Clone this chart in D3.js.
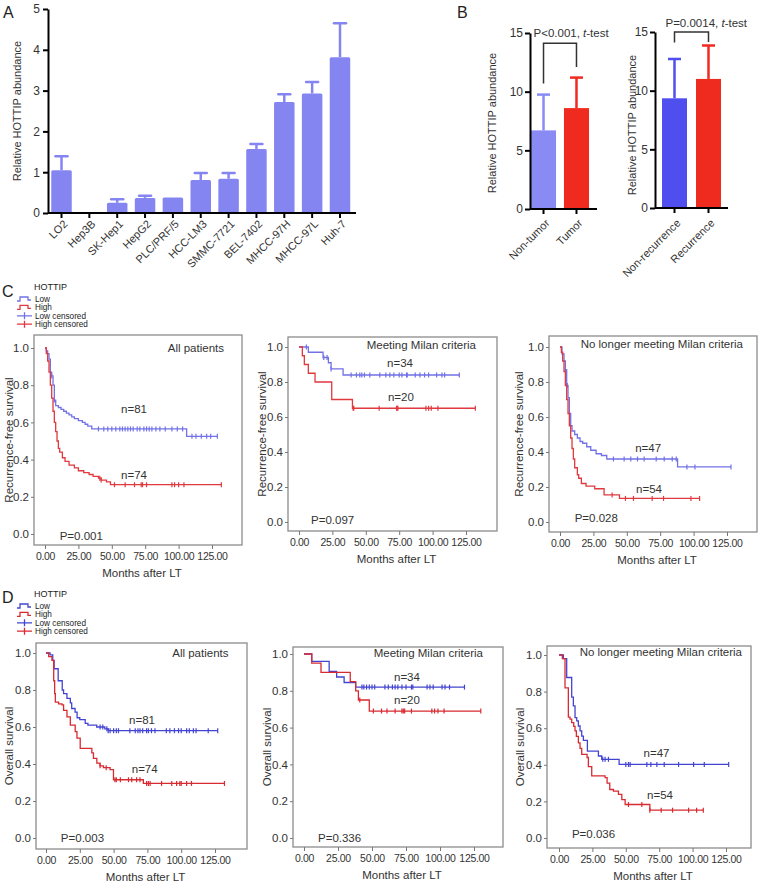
<!DOCTYPE html>
<html>
<head>
<meta charset="utf-8">
<script src="https://cdn.jsdelivr.net/npm/d3@7"></script>
<style>
  body { margin: 0; background: #fff; }
  svg { display: block; }
</style>
</head>
<body>
<div id="container"></div>
<script>
// ---------- data ----------
// Panel A: cell lines
const cellLines = ["LO2", "Hep3B", "SK-Hep1", "HepG2", "PLC/PRF/5", "HCC-LM3", "SMMC-7721", "BEL-7402", "MHCC-97H", "MHCC-97L", "Huh-7"];
const cellMeans = [1.05, 0.02, 0.25, 0.37, 0.38, 0.81, 0.84, 1.57, 2.72, 2.93, 3.82];
const cellErrTop = [1.39, 0.03, 0.34, 0.42, 0.38, 0.98, 0.98, 1.69, 2.91, 3.21, 4.65];

// Panel B
const tissueGroups = ["Non-tumor", "Tumor"];
const tissueMeans = [6.7, 8.6];
const tissueErrTop = [9.75, 11.2];
const recurGroups = ["Non-recurrence", "Recurrence"];
const recurMeans = [9.35, 11.0];
const recurErrTop = [12.7, 13.85];

// Panel C: recurrence-free survival, [months, survival]
const rfsAllLow = [[0,1],[1,0.985],[2,0.97],[3,0.94],[4,0.87],[5,0.85],[6,0.80],[7,0.72],[8,0.69],[10,0.68],[12,0.67],[14,0.66],[16,0.65],[18,0.64],[20,0.63],[22,0.62],[25,0.61],[28,0.60],[30,0.59],[32,0.58],[35,0.565],[106,0.525],[129,0.525]];
const rfsAllLowCens = [5,7,40,44,47,50,53,56,58,60,62,64,66,69,71,74,76,78,80,83,86,90,95,99,103,110,113,117,121,124,129];
const rfsAllHigh = [[0,1],[1,0.97],[2,0.93],[3,0.87],[4,0.80],[5,0.73],[6,0.66],[7,0.60],[8,0.55],[9,0.50],[10,0.46],[11,0.44],[13,0.41],[15,0.39],[18,0.37],[22,0.355],[25,0.34],[29,0.33],[33,0.32],[36,0.31],[40,0.30],[42,0.29],[46,0.28],[49,0.265],[132,0.265]];
const rfsAllHighCens = [41,42,52,60,67,72,73,76,95,97,100,104,132];

const rfsMilanLow = [[0,1],[7,0.97],[18,0.94],[22,0.91],[24,0.875],[33,0.84],[120,0.84]];
const rfsMilanLowCens = [5.5,18.5,21,24,39,43,45.5,47,49,53,60.5,65,68,71,75,77,80.5,81,87,90.5,94,97,103,107,109,120];
const rfsMilanHigh = [[0,1],[2.5,0.95],[4,0.90],[7,0.85],[12,0.80],[24.5,0.70],[40,0.65],[132,0.65]];
const rfsMilanHighCens = [40.5,41,60,73,73.5,74,95,97,99,104,132];

const rfsBeyondLow = [[0,1],[1.5,0.96],[3,0.92],[4,0.87],[5,0.78],[6,0.71],[7,0.62],[8,0.55],[9,0.52],[11,0.50],[13,0.48],[15,0.46],[17,0.45],[20,0.43],[23,0.41],[27,0.39],[31,0.38],[35,0.36],[88,0.315],[128,0.315]];
const rfsBeyondLowCens = [4,5.5,40,48,53,58,63,72,78,84,87,95,101,128];
const rfsBeyondHigh = [[0,1],[1,0.97],[2,0.92],[3,0.86],[4,0.78],[5,0.70],[6,0.62],[7,0.55],[8,0.48],[9,0.42],[10,0.36],[11,0.31],[13,0.27],[14,0.25],[16,0.22],[19.5,0.205],[26,0.19],[33,0.155],[44.5,0.135],[104.5,0.135]];
const rfsBeyondHighCens = [39,49,55,69,77.5,98,104.5];

// Panel D: overall survival
const osAllLow = [[0,1],[3,0.99],[5,0.96],[6,0.915],[9,0.85],[12,0.80],[13,0.78],[15.5,0.755],[18,0.73],[19,0.70],[21.5,0.68],[23,0.65],[25,0.64],[29,0.62],[31,0.61],[37.5,0.60],[43.5,0.59],[46,0.58],[127,0.58]];
const osAllLowCens = [40,42,45,46,47.4,50,52,53.6,62,66,68,69.5,71.5,74.4,75.7,78,80.6,89,91.6,95,98,100,104,106,109,111,120,127];
const osAllHigh = [[0,1],[2,0.98],[4.4,0.96],[5.7,0.85],[6.4,0.78],[6.9,0.735],[9.3,0.725],[11.8,0.72],[13,0.69],[15.5,0.655],[18,0.61],[21.6,0.575],[22.9,0.54],[25.3,0.485],[33.9,0.46],[35.1,0.43],[37.6,0.405],[40,0.39],[42.5,0.38],[47.4,0.37],[49.9,0.315],[72,0.295],[132,0.295]];
const osAllHighCens = [40,44.5,51,52,55,61,63.4,67,69.5,74.4,75.7,77,85.5,93,96.6,99,100,104,107.6,132];

const osMilanLow = [[0,1],[5.7,0.96],[18.5,0.905],[24,0.875],[29.5,0.845],[38,0.82],[118,0.82]];
const osMilanLowCens = [42.6,44,46,48,50,52,59.5,62,65,67,69,72,75,79,80,90.5,92.6,95,101.5,103.7,107,118];
const osMilanHigh = [[0,1],[5.7,0.95],[12.5,0.90],[34,0.85],[38,0.80],[40,0.75],[48,0.69],[130,0.69]];
const osMilanHighCens = [41,51,57,61,67,72,73,74,79,94,96,98.5,103,130];

const osBeyondLow = [[0,1],[3.25,0.98],[5.75,0.877],[9.5,0.77],[10.75,0.722],[12,0.658],[13.25,0.64],[14.5,0.612],[15.75,0.585],[17,0.557],[18.25,0.534],[21.25,0.475],[29.5,0.448],[32,0.43],[45,0.402],[127,0.402]];
const osBeyondLowCens = [32.75,34.5,37,50,52,53.25,65.75,68.75,73.25,78.75,89.5,100.75,108.75,127];
const osBeyondHigh = [[0,1],[2.5,0.98],[4.5,0.82],[7,0.66],[8.25,0.65],[9.5,0.63],[11,0.61],[12,0.585],[13,0.555],[14.5,0.52],[15.75,0.49],[17,0.457],[21,0.44],[22,0.39],[24.5,0.34],[34.5,0.33],[36,0.30],[38,0.265],[40.75,0.256],[44.5,0.238],[47,0.21],[49.5,0.183],[68,0.152],[108,0.152]];
const osBeyondHighCens = [52,62,68,76.5,85,97,103,108];

const legendItems = ["Low", "High", "Low censored", "High censored"];
const monthTicks = [0, 25, 50, 75, 100, 125];
const survTicks = [0, 0.2, 0.4, 0.6, 0.8, 1.0];

// ---------- setup ----------
const width = 760;
const height = 882;
const font = '"Liberation Sans", Arial, Helvetica, sans-serif';
const textColor = "#333";

const svg = d3.select("#container").append("svg")
  .attr("width", width)
  .attr("height", height)
  .attr("font-family", font)
  .style("background", "#fff");

// panel letters
[["A", 3, 18], ["B", 457, 18], ["C", 2, 297], ["D", 2, 603]].forEach(([t, x, y]) => {
  svg.append("text").attr("x", x).attr("y", y).attr("font-size", 16).attr("fill", "#222").text(t);
});

// ---------- Panel A ----------
function drawPanelA() {
  const barColor = "#8585f2";
  const x = d3.scaleBand().domain(cellLines).range([48, 353.5]).paddingInner(0.264).paddingOuter(0.117);
  const y = d3.scaleLinear().domain([0, 5]).range([213, 9]);
  const g = svg.append("g");

  g.selectAll("rect.bar").data(cellLines).join("rect")
    .attr("x", d => x(d))
    .attr("y", (d, i) => y(cellMeans[i]))
    .attr("width", x.bandwidth())
    .attr("height", (d, i) => y(0) - y(cellMeans[i]))
    .attr("rx", 1.5)
    .attr("fill", barColor);

  // error bars (upper only)
  cellLines.forEach((d, i) => {
    if (cellErrTop[i] - cellMeans[i] < 0.03) return;
    const cx = x(d) + x.bandwidth() / 2;
    g.append("line").attr("x1", cx).attr("x2", cx).attr("y1", y(cellMeans[i])).attr("y2", y(cellErrTop[i]))
      .attr("stroke", barColor).attr("stroke-width", 2.5);
    g.append("line").attr("x1", cx - 6).attr("x2", cx + 6).attr("y1", y(cellErrTop[i])).attr("y2", y(cellErrTop[i]))
      .attr("stroke", barColor).attr("stroke-width", 2.5).attr("stroke-linecap", "round");
  });

  const yAxis = g.append("g").attr("transform", "translate(48,0)")
    .call(d3.axisLeft(y).ticks(5).tickSize(5).tickPadding(3).tickSizeOuter(0));
  const xAxis = g.append("g").attr("transform", `translate(0,${y(0)})`)
    .call(d3.axisBottom(x).tickSize(5).tickSizeOuter(0).tickFormat(""));
  [yAxis, xAxis].forEach(a => {
    a.select(".domain").attr("stroke", "#000").attr("stroke-width", 2);
    a.selectAll(".tick line").attr("stroke", "#000").attr("stroke-width", 2);
    a.selectAll(".tick text").attr("font-family", font).attr("font-size", 12).attr("fill", textColor);
  });
  xAxis.select(".domain").attr("d", `M48,0H356`);

  g.selectAll("text.xl").data(cellLines).join("text")
    .attr("transform", d => `translate(${x(d) + x.bandwidth() / 2 + 4},222) rotate(-45)`)
    .attr("text-anchor", "end")
    .attr("dy", "0.35em")
    .attr("font-size", 11)
    .attr("fill", textColor)
    .text(d => d);

  g.append("text")
    .attr("transform", "translate(17,111) rotate(-90)")
    .attr("text-anchor", "middle")
    .attr("dy", "0.35em")
    .attr("font-size", 11)
    .attr("fill", textColor)
    .text("Relative HOTTIP abundance");
}

// ---------- Panel B ----------
function drawPairBars(cfg) {
  const x = d3.scaleBand().domain(cfg.groups).range(cfg.xRange).paddingInner(cfg.padIn).paddingOuter(cfg.padOut);
  const y = d3.scaleLinear().domain([0, 15]).range(cfg.yRange);
  const g = svg.append("g");

  g.selectAll("rect").data(cfg.groups).join("rect")
    .attr("x", d => x(d))
    .attr("y", (d, i) => y(cfg.means[i]))
    .attr("width", x.bandwidth())
    .attr("height", (d, i) => y(0) - y(cfg.means[i]))
    .attr("fill", (d, i) => cfg.colors[i]);

  cfg.groups.forEach((d, i) => {
    const cx = x(d) + x.bandwidth() / 2;
    g.append("line").attr("x1", cx).attr("x2", cx).attr("y1", y(cfg.means[i])).attr("y2", y(cfg.errTop[i]))
      .attr("stroke", cfg.colors[i]).attr("stroke-width", 2.5);
    g.append("line").attr("x1", cx - 6.5).attr("x2", cx + 6.5).attr("y1", y(cfg.errTop[i])).attr("y2", y(cfg.errTop[i]))
      .attr("stroke", cfg.colors[i]).attr("stroke-width", 2.5);
  });

  const axisX = cfg.xRange[0];
  const yAxis = g.append("g").attr("transform", `translate(${axisX},0)`)
    .call(d3.axisLeft(y).tickValues([0, 5, 10, 15]).tickSize(5).tickPadding(2).tickSizeOuter(0));
  const xAxis = g.append("g").attr("transform", `translate(0,${y(0)})`)
    .call(d3.axisBottom(x).tickSize(5).tickSizeOuter(0).tickFormat(""));
  [yAxis, xAxis].forEach(a => {
    a.select(".domain").attr("stroke", "#000").attr("stroke-width", 2);
    a.selectAll(".tick line").attr("stroke", "#000").attr("stroke-width", 2);
    a.selectAll(".tick text").attr("font-family", font).attr("font-size", 12).attr("fill", textColor);
  });
  xAxis.select(".domain").attr("d", `M${axisX},0H${cfg.xEnd}`);

  g.selectAll("text.xl").data(cfg.groups).join("text")
    .attr("transform", d => `translate(${x(d) + x.bandwidth() / 2 + 4},221) rotate(-45)`)
    .attr("text-anchor", "end")
    .attr("dy", "0.35em")
    .attr("font-size", 11)
    .attr("fill", textColor)
    .text(d => d);

  g.append("text")
    .attr("transform", `translate(${cfg.yLabelX},${cfg.yLabelY}) rotate(-90)`)
    .attr("text-anchor", "middle")
    .attr("dy", "0.35em")
    .attr("font-size", 11)
    .attr("fill", textColor)
    .text("Relative HOTTIP abundance");

  // significance bracket
  const xl = x(cfg.groups[0]) + x.bandwidth() / 2;
  const xr = x(cfg.groups[1]) + x.bandwidth() / 2;
  const b = cfg.bracket;
  g.append("path")
    .attr("d", `M${xl},${y(b[1])}V${y(b[0])}H${xr}V${y(b[2])}`)
    .attr("fill", "none").attr("stroke", "#333").attr("stroke-width", 1.5);

  const pt = g.append("text")
    .attr("x", xl + cfg.pDx)
    .attr("y", y(cfg.pValue))
    .attr("dy", "0.35em")
    .attr("font-size", 11.5)
    .attr("fill", textColor);
  pt.append("tspan").text(cfg.pText + ", ");
  pt.append("tspan").attr("font-style", "italic").text("t");
  pt.append("tspan").text("-test");
}

// ---------- KM plots ----------
function survAt(curve, t) {
  let s = curve[0][1];
  for (const [tt, ss] of curve) { if (tt <= t) s = ss; else break; }
  return s;
}

function drawLegend(x0, yTop, colors) {
  const g = svg.append("g");
  g.append("text").attr("x", x0 + 17).attr("y", yTop).attr("dy", "0.35em")
    .attr("font-size", 9).attr("fill", "#222").text("HOTTIP");
  legendItems.forEach((label, i) => {
    const yy = yTop + 12 + i * 8.4;
    const col = i % 2 === 0 ? colors[0] : colors[1];
    const d = i < 2
      ? `M${x0},${yy + 2}H${x0 + 3}V${yy - 2}H${x0 + 11}V${yy + 1}H${x0 + 14}`
      : `M${x0},${yy}H${x0 + 15}M${x0 + 7.5},${yy - 3.5}V${yy + 3.5}`;
    g.append("path").attr("d", d).attr("fill", "none").attr("stroke", col).attr("stroke-width", 1.3);
    g.append("text").attr("x", x0 + 18).attr("y", yy).attr("dy", "0.35em")
      .attr("font-size", 8.2).attr("fill", "#222").text(label);
  });
}

function drawKM(cfg) {
  const [fx0, fy0, fx1, fy1] = cfg.frame;
  const x = d3.scaleLinear().domain([0, 125]).range([cfg.xZero, cfg.x125]);
  const y = d3.scaleLinear().domain([0, 1]).range([cfg.yZero, cfg.yOne]);
  const g = svg.append("g");

  g.append("rect")
    .attr("x", fx0).attr("y", fy0).attr("width", fx1 - fx0).attr("height", fy1 - fy0)
    .attr("fill", "none").attr("stroke", "#8c8c8c").attr("stroke-width", 1.3);

  const yAxis = g.append("g").attr("transform", `translate(${fx0},0)`)
    .call(d3.axisLeft(y).tickValues(survTicks).tickFormat(d3.format(".1f")).tickSize(3).tickPadding(2));
  const xAxis = g.append("g").attr("transform", `translate(0,${fy1})`)
    .call(d3.axisBottom(x).tickValues(monthTicks).tickFormat(d3.format(".2f")).tickSize(4).tickPadding(4));
  [yAxis, xAxis].forEach(a => {
    a.select(".domain").remove();
    a.selectAll(".tick line").attr("stroke", "#777").attr("stroke-width", 1);
    a.selectAll(".tick text").attr("font-family", font).attr("fill", textColor);
  });
  yAxis.selectAll(".tick text").attr("font-size", 11.5);
  xAxis.selectAll(".tick text").attr("font-size", 10.5).attr("letter-spacing", "-0.3px");

  const line = d3.line().curve(d3.curveStepAfter).x(d => x(d[0])).y(d => y(d[1]));
  cfg.curves.forEach(c => {
    g.append("path").datum(c.data)
      .attr("d", line)
      .attr("fill", "none").attr("stroke", c.color).attr("stroke-width", 1.3);
    g.selectAll(null).data(c.cens).join("line")
      .attr("x1", t => x(t)).attr("x2", t => x(t))
      .attr("y1", t => y(survAt(c.data, t)) - 2.5)
      .attr("y2", t => y(survAt(c.data, t)) + 2.5)
      .attr("stroke", c.color).attr("stroke-width", 1.2);
  });

  g.append("text").attr("x", x(cfg.title[1])).attr("y", y(cfg.title[2])).attr("dy", "0.35em")
    .attr("text-anchor", "end").attr("font-size", 11.5).attr("fill", textColor).text(cfg.title[0]);

  cfg.notes.forEach(([txt, t, s]) => {
    g.append("text").attr("x", x(t)).attr("y", y(s)).attr("dy", "0.35em")
      .attr("text-anchor", "middle").attr("font-size", 11.5).attr("fill", textColor).text(txt);
  });

  g.append("text").attr("x", x(cfg.p[1])).attr("y", y(cfg.p[2])).attr("dy", "0.35em")
    .attr("font-size", 11.5).attr("fill", textColor).text(cfg.p[0]);

  g.append("text").attr("x", (fx0 + fx1) / 2 + 4).attr("y", fy1 + 28).attr("dy", "0.35em")
    .attr("text-anchor", "middle").attr("font-size", 11.5).attr("fill", textColor).text("Months after LT");

  g.append("text")
    .attr("transform", `translate(${cfg.yLabelX},${(fy0 + fy1) / 2}) rotate(-90)`)
    .attr("text-anchor", "middle").attr("dy", "0.35em")
    .attr("font-size", 11.5).attr("fill", textColor).text(cfg.yLabel);
}

drawPanelA();

drawPairBars({
  groups: tissueGroups, means: tissueMeans, errTop: tissueErrTop,
  colors: ["#8a8af4", "#ef2b1f"],
  xRange: [530, 590], padIn: 0.24, padOut: 0.03, xEnd: 597,
  yRange: [209, 33], yLabelX: 492, yLabelY: 123,
  bracket: [14.13, 10.7, 12.1], pText: "P<0.001", pValue: 15, pDx: -10
});

drawPairBars({
  groups: recurGroups, means: recurMeans, errTop: recurErrTop,
  colors: ["#4f4ff0", "#ef2b1f"],
  xRange: [655, 728], padIn: 0.265, padOut: 0.206, xEnd: 728,
  yRange: [208, 32], yLabelX: 632, yLabelY: 125,
  bracket: [15.0, 14.1, 14.15], pText: "P=0.0014", pValue: 15.8, pDx: -9
});

const cBlue = "#7272e6", cRed = "#e0393f";
const dBlue = "#4444d2", dRed = "#d82b31";

drawLegend(17, 287, [cBlue, cRed]);
drawLegend(17, 594, [dBlue, dRed]);

drawKM({
  frame: [34, 335, 242, 545], xZero: 45, x125: 212, yZero: 534, yOne: 348,
  curves: [
    { data: rfsAllLow, cens: rfsAllLowCens, color: cBlue },
    { data: rfsAllHigh, cens: rfsAllHighCens, color: cRed }
  ],
  title: ["All patients", 134, 1.0], notes: [["n=81", 66.6, 0.67], ["n=74", 66.6, 0.315]],
  p: ["P=0.001", 11, -0.01], yLabel: "Recurrence-free survival", yLabelX: 9
});
drawKM({
  frame: [288, 337, 497, 531], xZero: 299, x125: 466, yZero: 522, yOne: 347,
  curves: [
    { data: rfsMilanLow, cens: rfsMilanLowCens, color: cBlue },
    { data: rfsMilanHigh, cens: rfsMilanHighCens, color: cRed }
  ],
  title: ["Meeting Milan criteria", 132.5, 1.01], notes: [["n=34", 75.6, 0.909], ["n=20", 76.3, 0.714]],
  p: ["P=0.097", 9, 0.01], yLabel: "Recurrence-free survival", yLabelX: 262
});
drawKM({
  frame: [549, 336, 757, 532], xZero: 560, x125: 727, yZero: 522, yOne: 347,
  curves: [
    { data: rfsBeyondLow, cens: rfsBeyondLowCens, color: cBlue },
    { data: rfsBeyondHigh, cens: rfsBeyondHighCens, color: cRed }
  ],
  title: ["No longer meeting Milan criteria", 137, 1.017], notes: [["n=47", 66, 0.423], ["n=54", 66.6, 0.19]],
  p: ["P=0.028", 11, 0.023], yLabel: "Recurrence-free survival", yLabelX: 519
});

drawKM({
  frame: [36, 643, 247, 849], xZero: 46, x125: 215, yZero: 838, yOne: 653,
  curves: [
    { data: osAllLow, cens: osAllLowCens, color: dBlue },
    { data: osAllHigh, cens: osAllHighCens, color: dRed }
  ],
  title: ["All patients", 135, 1.0], notes: [["n=81", 71, 0.638], ["n=74", 73, 0.373]],
  p: ["P=0.003", 11, 0], yLabel: "Overall survival", yLabelX: 9
});
drawKM({
  frame: [293, 647, 503, 847], xZero: 304, x125: 474, yZero: 838, yOne: 654,
  curves: [
    { data: osMilanLow, cens: osMilanLowCens, color: dBlue },
    { data: osMilanHigh, cens: osMilanHighCens, color: dRed }
  ],
  title: ["Meeting Milan criteria", 131.6, 1.005], notes: [["n=34", 75.7, 0.875], ["n=20", 75.7, 0.75]],
  p: ["P=0.336", 10.3, 0], yLabel: "Overall survival", yLabelX: 267
});
drawKM({
  frame: [547, 646, 751, 848], xZero: 559, x125: 726, yZero: 838, yOne: 655,
  curves: [
    { data: osBeyondLow, cens: osBeyondLowCens, color: dBlue },
    { data: osBeyondHigh, cens: osBeyondHighCens, color: dRed }
  ],
  title: ["No longer meeting Milan criteria", 137, 1.016], notes: [["n=47", 73, 0.462], ["n=54", 75.6, 0.236]],
  p: ["P=0.036", 9.7, 0.022], yLabel: "Overall survival", yLabelX: 520
});
</script>
</body>
</html>
